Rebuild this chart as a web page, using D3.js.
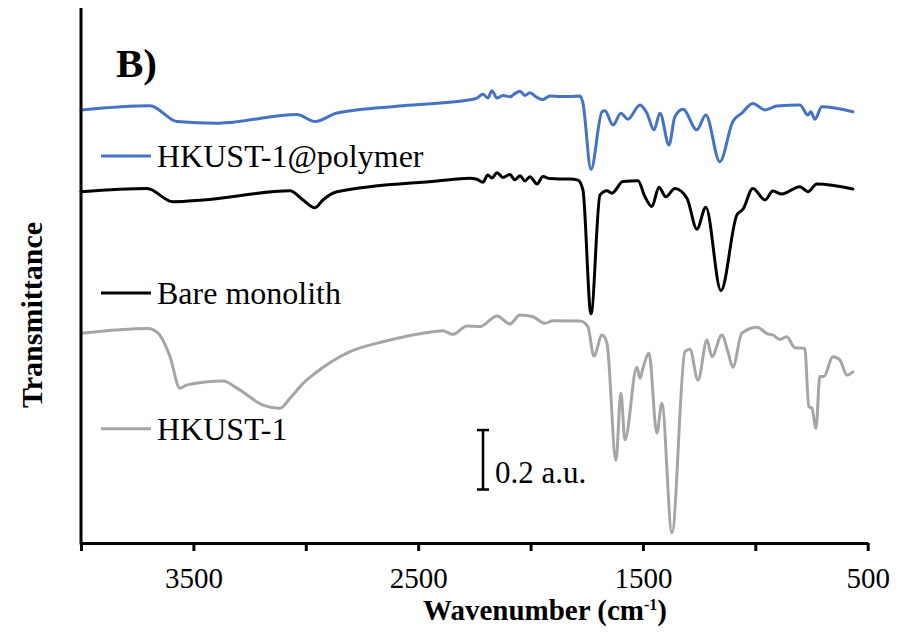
<!DOCTYPE html>
<html><head><meta charset="utf-8">
<script src="https://cdn.jsdelivr.net/npm/d3@7"></script>
<style>body{margin:0;background:#fff}svg{display:block}text{font-family:"Liberation Serif","Times New Roman",serif;fill:#000}</style>
</head><body><div id="chart"></div>
<script>
// Wavenumber (cm-1) / transmittance (a.u., offset for display)
const polymerWn = [4000,3693,3573,3395,3324,3039,2959,2861,2568,2270,2239,2212,2190,2172,2149,2123,2092,2070,2047,2025,2003,1971,1945,1914,1869,1825,1780,1767,1731,1682,1669,1633,1598,1567,1513,1482,1451,1424,1384,1358,1322,1260,1220,1158,1100,1060,1011,957,904,802,766,753,735,704,566];
const polymerT  = [1.457,1.471,1.418,1.412,1.416,1.442,1.418,1.447,1.471,1.491,1.497,1.510,1.497,1.522,1.497,1.506,1.501,1.512,1.520,1.506,1.515,1.499,1.492,1.504,1.502,1.502,1.504,1.480,1.257,1.451,1.454,1.406,1.446,1.426,1.474,1.446,1.390,1.446,1.339,1.434,1.459,1.390,1.440,1.283,1.418,1.446,1.479,1.457,1.470,1.474,1.440,1.451,1.426,1.468,1.451];

const bareWn = [4000,3706,3591,3457,3070,3012,2959,2924,2861,2416,2270,2239,2212,2190,2172,2149,2123,2092,2070,2047,2025,2003,1971,1945,1914,1869,1825,1789,1767,1731,1691,1660,1638,1589,1522,1491,1460,1429,1398,1358,1304,1260,1220,1153,1082,1055,1011,957,922,882,802,766,726,566];
const bareT  = [1.182,1.193,1.148,1.154,1.185,1.154,1.128,1.154,1.182,1.218,1.227,1.224,1.214,1.238,1.228,1.246,1.230,1.240,1.222,1.236,1.218,1.232,1.208,1.233,1.226,1.225,1.225,1.221,1.188,0.771,1.171,1.185,1.177,1.216,1.219,1.165,1.132,1.197,1.165,1.193,1.160,1.056,1.130,0.849,1.104,1.123,1.193,1.154,1.184,1.174,1.199,1.182,1.208,1.191];

const hkustWn = [4000,3702,3657,3604,3560,3528,3368,3306,3190,3115,3070,3012,2950,2803,2657,2434,2390,2345,2283,2225,2149,2092,2047,1989,1936,1900,1780,1745,1718,1682,1660,1620,1598,1580,1527,1513,1500,1473,1438,1416,1371,1313,1291,1255,1215,1193,1149,1122,1100,1060,993,944,922,891,860,824,780,762,748,730,713,695,655,624,593,566];
const hkustT  = [0.706,0.722,0.706,0.627,0.521,0.532,0.545,0.521,0.464,0.453,0.487,0.537,0.576,0.644,0.677,0.711,0.714,0.702,0.730,0.728,0.764,0.737,0.767,0.761,0.739,0.748,0.747,0.728,0.629,0.700,0.672,0.279,0.504,0.347,0.591,0.554,0.588,0.638,0.369,0.470,0.035,0.644,0.652,0.548,0.683,0.627,0.700,0.644,0.591,0.706,0.726,0.703,0.700,0.685,0.694,0.657,0.655,0.459,0.453,0.386,0.560,0.560,0.627,0.616,0.565,0.576];

const seriesNames = ["HKUST-1@polymer","Bare monolith","HKUST-1"];
const seriesColors = ["#4472C4","#000000","#A5A5A5"];
const legendY = [1.302, 0.841, 0.384];  // legend sample positions (a.u.)
const xTicks = [4000,3500,3000,2500,2000,1500,1000,500];
const xLabels = [3500,2500,1500,500];
const scaleBar = [0.18, 0.38];           // 0.2 a.u.

const W = 900, H = 632;
const svg = d3.select("#chart").append("svg").attr("width", W).attr("height", H);
const x = d3.scaleLinear().domain([4000, 500]).range([81, 867.7]);
const y = d3.scaleLinear().domain([0, 1.8]).range([543, 8]);

const series = [
  {wn: polymerWn, t: polymerT},
  {wn: bareWn, t: bareT},
  {wn: hkustWn, t: hkustT}
];
const line = d3.line().x(d => x(d[0])).y(d => y(d[1])).curve(d3.curveMonotoneX);

[2,1,0].forEach(i => {
  const s = series[i];
  svg.append("path")
    .datum(s.wn.map((w, j) => [w, s.t[j]]))
    .attr("d", line)
    .attr("fill", "none")
    .attr("stroke", seriesColors[i])
    .attr("stroke-width", 3)
    .attr("stroke-linejoin", "round")
    .attr("stroke-linecap", "round");
});

// axes
const xAxis = d3.axisBottom(x).tickValues(xTicks)
  .tickFormat(d => xLabels.includes(d) ? d : "")
  .tickSizeInner(8).tickSizeOuter(0).tickPadding(16);
const gx = svg.append("g").attr("transform", `translate(0,${y(0)})`).call(xAxis);
gx.select(".domain").attr("stroke", "#000").attr("stroke-width", 3);
gx.selectAll(".tick line").attr("stroke", "#000").attr("stroke-width", 3);
gx.selectAll(".tick text").attr("font-size", 29).attr("font-family", "Liberation Serif");

svg.append("line").attr("x1", x(4000)).attr("x2", x(4000))
  .attr("y1", y(1.8)).attr("y2", y(0) + 1.5)
  .attr("stroke", "#000").attr("stroke-width", 3);

// axis titles
const xt = svg.append("text").attr("x", 545).attr("y", 620)
  .attr("text-anchor", "middle").attr("font-size", 29).attr("font-weight", "bold");
xt.append("tspan").text("Wavenumber (cm");
xt.append("tspan").attr("font-size", 16).attr("dy", -10).text("-1");
xt.append("tspan").attr("dy", 10).text(")");

svg.append("text").attr("transform", "translate(42,315) rotate(-90)")
  .attr("text-anchor", "middle").attr("font-size", 30).attr("font-weight", "bold")
  .text("Transmittance");

svg.append("text").attr("x", 116).attr("y", 77).attr("font-size", 41)
  .attr("font-weight", "bold").text("B)");

// legend
seriesNames.forEach((n, i) => {
  const ly = y(legendY[i]);
  svg.append("line").attr("x1", 101).attr("x2", 151).attr("y1", ly).attr("y2", ly)
    .attr("stroke", seriesColors[i]).attr("stroke-width", 3);
  svg.append("text").attr("x", 157).attr("y", ly + 11).attr("font-size", 32).text(n);
});

// scale bar
const sbX = 483;
const sb = svg.append("g").attr("stroke", "#000").attr("stroke-width", 2.5);
sb.append("line").attr("x1", sbX).attr("x2", sbX).attr("y1", y(scaleBar[0])).attr("y2", y(scaleBar[1]));
sb.append("line").attr("x1", sbX - 6).attr("x2", sbX + 6).attr("y1", y(scaleBar[0])).attr("y2", y(scaleBar[0]));
sb.append("line").attr("x1", sbX - 6).attr("x2", sbX + 6).attr("y1", y(scaleBar[1])).attr("y2", y(scaleBar[1]));
svg.append("text").attr("x", 495).attr("y", 483).attr("font-size", 31).text("0.2 a.u.");
</script></body></html>
